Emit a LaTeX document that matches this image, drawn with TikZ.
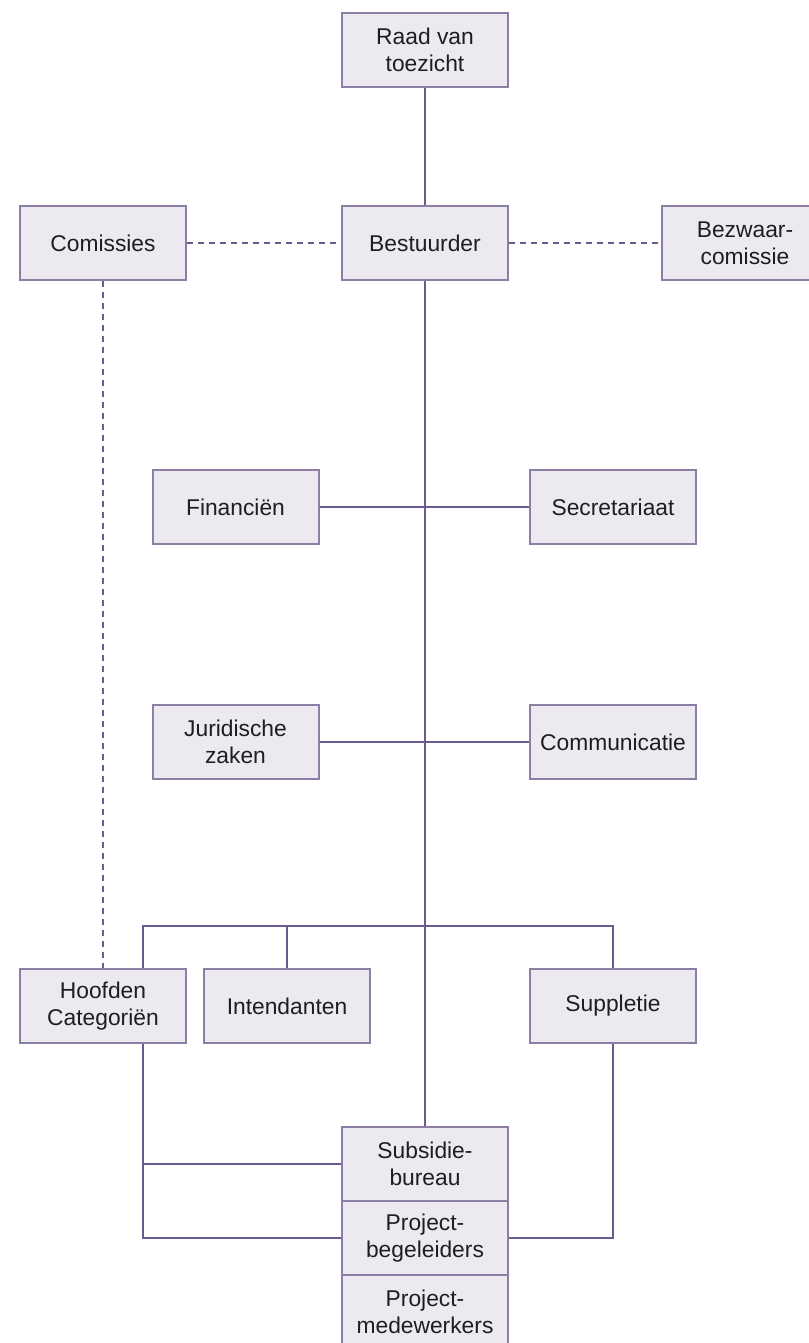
\documentclass[tikz,border=0pt]{standalone}
\usepackage{fontspec}
\setmainfont{Liberation Sans}
\definecolor{orgline}{HTML}{6B5B8E}
\definecolor{orgedge}{HTML}{8D7EA6}
\definecolor{orgfill}{HTML}{ECE9F1}
\definecolor{orgtext}{HTML}{1E1E1E}
\tikzset{
  unit/.style={draw=orgedge,fill=orgfill,line width=1pt,minimum width=83pt,minimum height=37pt,
    inner sep=2pt,align=center,text=orgtext,font=\fontsize{11.4}{13.6}\selectfont},
  link/.style={draw=orgline,line width=0.65pt},
  dlink/.style={link,dash pattern=on 3pt off 2.5pt},
}
\begin{document}
\begin{tikzpicture}[x=0.5pt,y=-0.5pt]
                    \useasboundingbox (0,0) rectangle (808,1343);
                    \node[unit] (raad) at (425,50) {Raad van\\toezicht};
                    \node[unit] (comm) at (103,243) {Comissies};
                    \node[unit] (best) at (425,243) {Bestuurder};
                    \node[unit] (bezw) at (745,243) {Bezwaar-\\comissie};
                    \node[unit] (fin) at (235.5,507) {Financiën};
                    \node[unit] (secr) at (613,507) {Secretariaat};
                    \node[unit] (jur) at (235.5,742) {Juridische\\zaken};
                    \node[unit] (comu) at (613,742) {Communicatie};
                    \node[unit] (hoofd) at (103,1006) {Hoofden\\Categoriën};
                    \node[unit] (intd) at (287,1006) {Intendanten};
                    \node[unit] (supp) at (613,1006) {Suppletie};
                    \node[unit] (subs) at (425,1164) {Subsidie-\\bureau};
                    \node[unit] (pbeg) at (425,1238) {Project-\\begeleiders};
                    \node[unit] (pmed) at (425,1312) {Project-\\medewerkers};
                    \coordinate (bus) at (425,926);
                    \draw[link] (raad) -- (best);
                    \draw[link] (best.south) -- (best.south |- subs.north);
                    \foreach \a/\b in {comm/best,best/bezw} { \draw[dlink] (\a) -- (\b); }
                    \draw[dlink] (comm) -- (hoofd);
                    \foreach \a/\b in {fin/secr,jur/comu} { \draw[link] (\a) -- (\b); }
                    \draw[link] ([xshift=20pt]hoofd.north) |- (bus) -| (supp.north);
                    \draw[link] (intd.north) -- (intd.north |- bus);
                    \draw[link] (subs.west) -| ([xshift=20pt]hoofd.south) |- (pbeg.west);
                    \draw[link] (supp.south) |- (pbeg.east);
                \end{tikzpicture}
\end{document}
